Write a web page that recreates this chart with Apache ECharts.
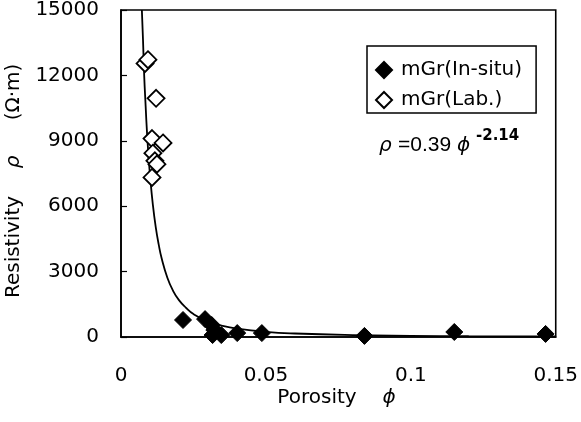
<!DOCTYPE html>
<html><head><meta charset="utf-8">
<script src="https://cdn.jsdelivr.net/npm/echarts@6/dist/echarts.min.js"></script>
<style>html,body{margin:0;padding:0;background:#fff}#c{width:581px;height:422px}</style>
</head><body><div id="c"></div>
<script>
// Lab. measurements (open diamonds): [porosity, resistivity]
const labPoints = [
  [0.0083, 12550], [0.0093, 12720], [0.0121, 10950], [0.0107, 9100],
  [0.0145, 8900], [0.0110, 8430], [0.0117, 8080], [0.0124, 7930], [0.0107, 7320]
];
// In-situ measurements (filled diamonds)
const insituPoints = [
  [0.0214, 780], [0.0290, 820], [0.0313, 550], [0.0322, 320], [0.0316, 90],
  [0.0346, 90], [0.0401, 180], [0.0486, 180], [0.0840, 50], [0.1150, 230], [0.1465, 140]
];
// Fitted curve
const curvePoints = [
  [0.0072, 15000], [0.0076, 13600], [0.0080, 12000], [0.0085, 10600], [0.0090, 9310],
  [0.0095, 8300], [0.0100, 7430], [0.0110, 6060], [0.0120, 5030], [0.0130, 4250],
  [0.0140, 3620], [0.0160, 2720], [0.0180, 2110], [0.0200, 1690], [0.0225, 1330],
  [0.0250, 1050], [0.0300, 708], [0.0350, 509], [0.0400, 382], [0.0500, 237],
  [0.0600, 161], [0.0800, 87], [0.1000, 54], [0.1200, 36], [0.1500, 23]
];
const xTicks = [0, 0.05, 0.1, 0.15];
const yTicks = [0, 3000, 6000, 9000, 12000, 15000];
const seriesNames = { insitu: 'mGr(In-situ)', lab: 'mGr(Lab.)' };
const xTitle = ['Porosity', '\u03d5'];
const yTitle = ['Resistivity', '\u03c1', '(\u03a9\u00b7m)'];
const equation = ['\u03c1', '=0.39', '\u03d5', '-2.14'];

const font = 'DejaVu Sans, sans-serif';
const eqFont = 'Liberation Sans, Arial, sans-serif';
const txt = (x, y, text, opts) => ({
  type: 'text', x: x, y: y, rotation: (opts && opts.rot) || 0,
  style: Object.assign({ text: text, fill: '#000', fontSize: 20, fontFamily: font, align: 'center', verticalAlign: 'middle' }, (opts && opts.style) || {})
});
const chart = echarts.init(document.getElementById('c'), null, { renderer: 'canvas' });
chart.setOption({
  animation: false,
  backgroundColor: '#fff',
  grid: { left: 121, right: 22, top: 8, bottom: 85, show: true, borderColor: '#000', borderWidth: 1.6, backgroundColor: 'transparent' },
  xAxis: {
    type: 'value', min: xTicks[0], max: xTicks[xTicks.length - 1], interval: 0.05,
    axisLine: { lineStyle: { color: '#000', width: 1.6 } },
    axisTick: { show: false },
    splitLine: { show: false },
    axisLabel: { color: '#000', fontSize: 20, fontFamily: font, margin: 29, formatter: v => String(v) }
  },
  yAxis: {
    type: 'value', min: yTicks[0], max: yTicks[yTicks.length - 1], interval: 3000,
    axisLine: { show: true, lineStyle: { color: '#000', width: 1.6 } },
    axisTick: { show: true, inside: true, length: 6, lineStyle: { color: '#000', width: 1.2 } },
    splitLine: { show: false },
    axisLabel: { color: '#000', fontSize: 20, fontFamily: font, margin: 22, formatter: v => String(v) }
  },
  legend: {
    left: 367, top: 46, orient: 'vertical', itemGap: 10,
    borderColor: '#000', borderWidth: 1.5, padding: [14, 14, 3, 8],
    itemWidth: 16, itemHeight: 16,
    textStyle: { color: '#000', fontSize: 20, fontFamily: font, padding: [0, 0, 0, 4] },
    data: [
      { name: seriesNames.insitu, icon: 'diamond' },
      { name: seriesNames.lab, icon: 'diamond' }
    ]
  },
  graphic: [
    txt(14, 247, yTitle[0], { rot: Math.PI / 2 }),
    txt(14, 162, yTitle[1], { rot: Math.PI / 2, style: { fontStyle: 'italic' } }),
    txt(14, 92, yTitle[2], { rot: Math.PI / 2 }),
    txt(317, 398, xTitle[0]),
    txt(389, 398, xTitle[1], { style: { fontStyle: 'italic' } }),
    txt(379, 146, equation[0], { style: { align: 'left', fontStyle: 'italic' } }),
    txt(398, 145, equation[1], { style: { align: 'left', fontFamily: eqFont, fontSize: 21 } }),
    txt(457, 146, equation[2], { style: { align: 'left', fontStyle: 'italic' } }),
    txt(476, 136, equation[3], { style: { align: 'left', fontSize: 15, fontWeight: 'bold' } })
  ],
  series: [
    { name: 'fit', type: 'line', data: curvePoints, smooth: true, showSymbol: false, symbol: 'none',
      lineStyle: { color: '#000', width: 1.8 }, z: 1, clip: true },
    { name: seriesNames.insitu, type: 'scatter', data: insituPoints, symbol: 'diamond', symbolSize: 17,
      itemStyle: { color: '#000', opacity: 1, borderColor: '#000', borderWidth: 1 }, z: 3 },
    { name: seriesNames.lab, type: 'scatter', data: labPoints, symbol: 'diamond', symbolSize: 17,
      itemStyle: { color: '#fff', opacity: 1, borderColor: '#000', borderWidth: 1.8 }, z: 2 }
  ]
});
</script></body></html>
